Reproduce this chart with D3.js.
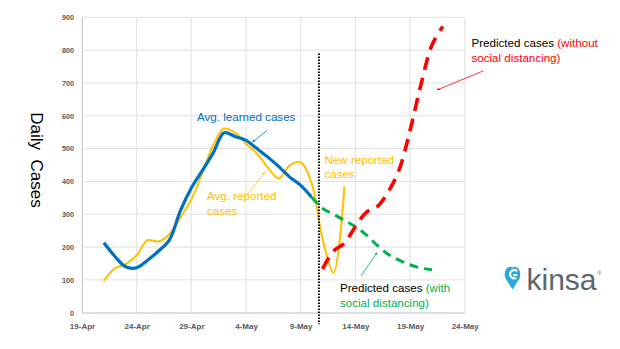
<!DOCTYPE html>
<html>
<head>
<meta charset="utf-8">
<script src="https://cdn.jsdelivr.net/npm/d3@7"></script>
<style>
  html, body { margin: 0; padding: 0; background: #fff; }
  svg { display: block; }
  text { font-family: "Liberation Sans", Arial, sans-serif; }
</style>
</head>
<body>
<svg id="chart" width="620" height="349"></svg>
<script>
// ---- data ----
const learnedDates = ["2020-04-21","2020-04-22","2020-04-23","2020-04-24","2020-04-25","2020-04-26","2020-04-27","2020-04-28","2020-04-29","2020-04-30","2020-05-01","2020-05-02","2020-05-03","2020-05-04","2020-05-05","2020-05-06","2020-05-07","2020-05-08","2020-05-09","2020-05-10"];
const learnedCases = [213, 172, 140, 137, 160, 188, 222, 311, 380, 433, 487, 548, 537, 525, 500, 474, 445, 413, 388, 352];

const reportedDates = ["2020-04-21","2020-04-22","2020-04-23","2020-04-24","2020-04-25","2020-04-26","2020-04-27","2020-04-28","2020-04-29","2020-04-30","2020-05-01","2020-05-02","2020-05-03","2020-05-04","2020-05-05","2020-05-06","2020-05-07","2020-05-08","2020-05-09","2020-05-10","2020-05-11","2020-05-12","2020-05-13"];
const reportedCases = [97, 135, 148, 175, 221, 217, 240, 290, 345, 425, 510, 561, 548, 515, 485, 442, 409, 449, 458, 395, 225, 122, 385];

const distancingDates = ["2020-05-10","2020-05-11","2020-05-12","2020-05-13","2020-05-14","2020-05-15","2020-05-16","2020-05-17","2020-05-18","2020-05-19","2020-05-20","2020-05-21"];
const withDistancing = [352, 318, 300, 281, 262, 237, 205, 178, 160, 146, 136, 131];

const noDistancingDates = ["2020-05-11","2020-05-12","2020-05-13","2020-05-14","2020-05-15","2020-05-16","2020-05-17","2020-05-18","2020-05-19","2020-05-20","2020-05-21","2020-05-22"];
const withoutDistancing = [133, 188, 212, 262, 306, 323, 368, 435, 555, 695, 815, 872];

const xTickLabels = ["19-Apr","24-Apr","29-Apr","4-May","9-May","14-May","19-May","24-May"];
const yTicks = [0, 100, 200, 300, 400, 500, 600, 700, 800, 900];
const forecastStart = "2020-05-10T16:00";

// ---- setup ----
const parse = d3.isoParse;
const svg = d3.select("#chart");
const plotLeft = 82, plotRight = 464.7, plotTop = 17.3, plotBottom = 312.7;

const x = d3.scaleTime()
  .domain([parse("2020-04-19"), parse("2020-05-24")])
  .range([plotLeft, plotRight]);
const y = d3.scaleLinear().domain([0, 900]).range([plotBottom, plotTop]);

const fmt = d3.timeFormat("%-d-%b");
const xTickDates = d3.timeDay.range(parse("2020-04-19"), d3.timeDay.offset(parse("2020-05-24"), 1))
  .filter(d => xTickLabels.includes(fmt(d)));

// ---- grid ----
const grid = svg.append("g").attr("stroke", "#e1e1e1").attr("stroke-width", 1);
grid.selectAll("line.h").data(yTicks).join("line").attr("class", "h")
  .attr("x1", plotLeft).attr("x2", plotRight)
  .attr("y1", d => y(d)).attr("y2", d => y(d));
grid.selectAll("line.v").data(xTickDates).join("line").attr("class", "v")
  .attr("x1", d => x(d)).attr("x2", d => x(d))
  .attr("y1", plotTop).attr("y2", plotBottom);

// ---- axes ----
const xAxis = d3.axisBottom(x).tickValues(xTickDates).tickFormat(fmt).tickSize(0).tickPadding(11);
const gx = svg.append("g").attr("transform", `translate(0,${plotBottom})`).call(xAxis);
gx.select(".domain").attr("stroke", "#d0d0d0");
gx.selectAll("text").attr("fill", "#595959").attr("font-size", 8).attr("font-weight", "bold")
  .attr("font-family", "Liberation Sans, Arial, sans-serif");

const yAxis = d3.axisLeft(y).tickValues(yTicks).tickSize(0).tickPadding(8);
const gy = svg.append("g").attr("transform", `translate(${plotLeft},0)`).call(yAxis);
gy.select(".domain").attr("stroke", "#d0d0d0");
gy.selectAll("text").attr("fill", "#595959").attr("font-size", 7.2).attr("font-weight", "bold")
  .attr("font-family", "Liberation Sans, Arial, sans-serif");

// ---- axis title ----
svg.append("text")
  .attr("transform", `translate(31,160) rotate(90)`)
  .attr("text-anchor", "middle")
  .attr("font-size", 17)
  .attr("fill", "#000")
  .style("white-space", "pre")
  .text("Daily  Cases");

// ---- series ----
const toPoints = (dates, vals) => dates.map((d, i) => [parse(d), vals[i]]);
const line = d3.line().x(d => x(d[0])).y(d => y(d[1])).curve(d3.curveCatmullRom.alpha(0.5));

svg.append("path").datum(toPoints(reportedDates, reportedCases))
  .attr("d", line).attr("fill", "none").attr("stroke", "#ffc000").attr("stroke-width", 2);

svg.append("path").datum(toPoints(learnedDates, learnedCases))
  .attr("d", line).attr("fill", "none").attr("stroke", "#0070c0").attr("stroke-width", 3.2);

svg.append("path").datum(toPoints(distancingDates, withDistancing))
  .attr("d", line).attr("fill", "none").attr("stroke", "#00b050").attr("stroke-width", 3)
  .attr("stroke-dasharray", "9,6");

svg.append("path").datum(toPoints(noDistancingDates, withoutDistancing))
  .attr("d", line).attr("fill", "none").attr("stroke", "#ff0000").attr("stroke-width", 3.6)
  .attr("stroke-dasharray", "13,8");

// forecast divider
svg.append("line")
  .attr("x1", x(parse(forecastStart))).attr("x2", x(parse(forecastStart)))
  .attr("y1", y(790)).attr("y2", y(-35))
  .attr("stroke", "#000").attr("stroke-width", 2).attr("stroke-dasharray", "1.5,1.5");

// ---- annotations ----
const defs = svg.append("defs");
function marker(id, color) {
  defs.append("marker").attr("id", id).attr("viewBox", "0 0 10 10")
    .attr("refX", 9).attr("refY", 5).attr("markerWidth", 4).attr("markerHeight", 4)
    .attr("orient", "auto")
    .append("path").attr("d", "M0,1 L10,5 L0,9 z").attr("fill", color);
}
marker("arB", "#0070c0"); marker("arY", "#ffc000"); marker("arR", "#ff0000"); marker("arG", "#00b050");

function arrow(x1, y1, x2, y2, color, id) {
  svg.append("line").attr("x1", x1).attr("y1", y1).attr("x2", x2).attr("y2", y2)
    .attr("stroke", color).attr("stroke-width", 0.8).attr("marker-end", `url(#${id})`);
}
arrow(267, 130.5, 252.5, 142, "#0070c0", "arB");
arrow(247, 195, 265, 172, "#ffc000", "arY");
arrow(483, 71, 437, 90, "#ff0000", "arR");
arrow(361, 276, 377, 252.5, "#00b050", "arG");

const fs = 11.6;
function label(xp, yp, lines) {
  const t = svg.append("text").attr("x", xp).attr("y", yp).attr("font-size", fs);
  lines.forEach((ln, i) => {
    ln.forEach((seg, j) => {
      const ts = t.append("tspan").attr("fill", seg[1]).text(seg[0]);
      if (j === 0) ts.attr("x", xp).attr("dy", i === 0 ? 0 : 14.6);
    });
  });
}
label(197, 120.5, [[["Avg. learned cases", "#0070c0"]]]);
label(207, 200, [[["Avg. reported", "#ffc000"]], [["cases", "#ffc000"]]]);
label(324.5, 163.5, [[["New reported", "#ffc000"]], [["cases", "#ffc000"]]]);
label(471.5, 47, [[["Predicted cases ", "#000"], ["(without", "#ff0000"]], [["social distancing)", "#ff0000"]]]);
label(340, 292, [[["Predicted cases ", "#000"], ["(with", "#00b050"]], [["social distancing)", "#00b050"]]]);

// ---- logo ----
const logo = svg.append("g").attr("transform", "translate(504.5,266)");
logo.append("path")
  .attr("d", "M8,23.5 L1.6,13.5 C-0.6,10 -0.3,4 3.3,1.5 C5.3,0.1 7.3,0.5 8,2 C8.7,0.5 10.7,0.1 12.7,1.5 C16.3,4 16.6,10 14.4,13.5 Z")
  .attr("fill", "#2aa8dc");
// white "G" cut inside the heart
logo.append("path")
  .attr("d", "M12.6,5.2 C11.4,3.9 9.6,3.6 8,4.4 C5.9,5.4 5.1,8 6.1,10.1 C7.1,12.1 9.6,12.9 11.6,11.9")
  .attr("fill", "none").attr("stroke", "#fff").attr("stroke-width", 2.2).attr("stroke-linecap", "butt");
logo.append("rect").attr("x", 8.6).attr("y", 8.1).attr("width", 4.2).attr("height", 2)
  .attr("fill", "#fff");
svg.append("text").attr("x", 526.5).attr("y", 290)
  .attr("font-family", "Lato, sans-serif").attr("font-weight", 300)
  .attr("font-size", 30).attr("fill", "#5b6670").text("kinsa");
svg.append("text").attr("x", 597.5).attr("y", 274.5)
  .attr("font-size", 5).attr("fill", "#5b6670").text("®");
</script>
</body>
</html>
